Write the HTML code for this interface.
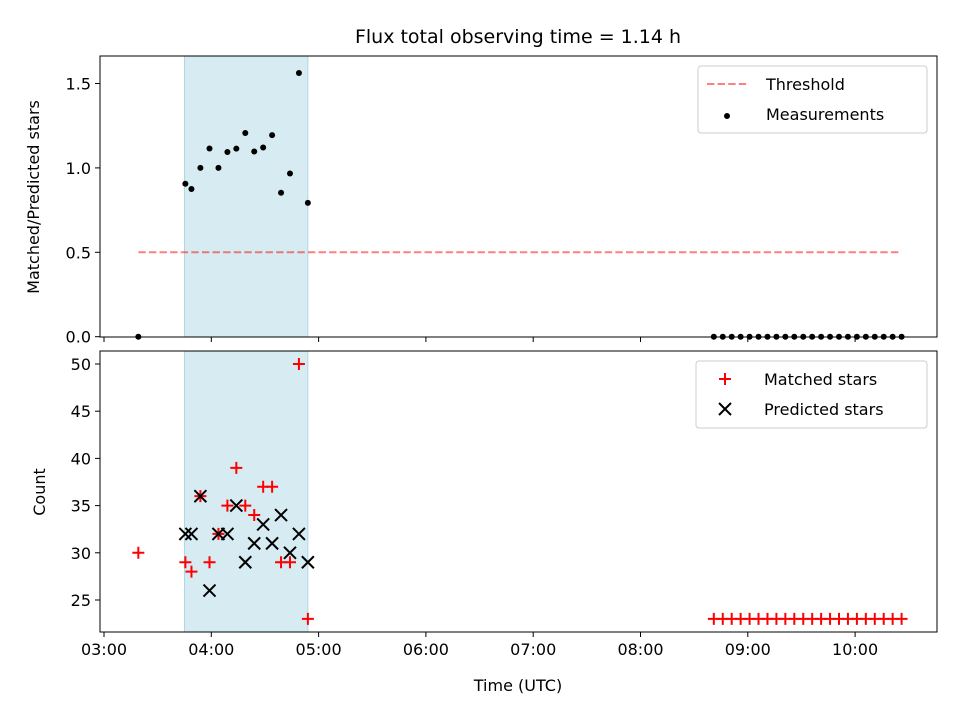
<!DOCTYPE html>
<html><head><meta charset="utf-8"><style>
body{margin:0;background:#fff;font-family:"Liberation Sans","DejaVu Sans",sans-serif;}
svg text{font-family:"DejaVu Sans","Liberation Sans",sans-serif;}
</style></head><body>
<svg id="chart" width="960" height="720" xmlns="http://www.w3.org/2000/svg"></svg>
<script>
// minutes since 03:00
const measTimes = [19.2,45.5,48.9,53.9,59,64,69,74,79,84,89,94,99,104,109,114];
const lateStart = 341;
const ratios = [0,0.906,0.875,1.0,1.115,1.0,1.094,1.114,1.207,1.097,1.121,1.194,0.853,0.967,1.5625,0.793];
const matched = [30,29,28,36,29,32,35,39,35,34,37,37,29,29,50,23];
const predicted = [null,32,32,36,26,32,32,35,29,31,33,31,34,30,32,29];
const lateCount = 22;
const lateMatched = 23;
const lateRatio = 0;
const threshold = 0.5;
const spanStart = 45, spanEnd = 114;
const xTickLabels = ["03:00","04:00","05:00","06:00","07:00","08:00","09:00","10:00"];
const topYTicks = [0.0,0.5,1.0,1.5];
const botYTicks = [25,30,35,40,45,50];

const svg = document.getElementById('chart');
const NS = 'http://www.w3.org/2000/svg';
function el(tag, attrs, parent){const e=document.createElementNS(NS,tag);for(const k in attrs)e.setAttribute(k,attrs[k]);(parent||svg).appendChild(e);return e;}
const L=100,R=937, T1=56,B1=337, T2=351,B2=632;
const x = m => 104 + m/60*107.3;
const y1 = v => 336.7 - v*168.8;
const y2 = v => 364 + (50-v)*9.44;

const times = measTimes;
const lateTimes = [];
for(let i=0;i<lateCount;i++) lateTimes.push(lateStart + i*5);

function panel(T,B,name){
  const g=el('g',{});
  
  
  const s=el('rect',{x:x(spanStart),y:T,width:x(spanEnd)-x(spanStart),height:B-T,fill:'#add8e6','fill-opacity':0.5,stroke:'#add8e6'},g);
  
  
  return g;
}
const gTop=panel(T1,B1,'top-panel');
const gBot=panel(T2,B2,'bottom-panel');

const allT=[...times,...lateTimes];
const tl=el('line',{x1:x(Math.min(...allT)),x2:x(Math.max(...allT)),y1:y1(threshold),y2:y1(threshold),stroke:'#ff0000','stroke-opacity':0.5,'stroke-width':2,'stroke-dasharray':'7.4,3.2'},gTop);


times.forEach((t,i)=>{const c=el('circle',{cx:x(t),cy:y1(ratios[i]),r:3,fill:'#000'},gTop);

});
lateTimes.forEach(t=>{const c=el('circle',{cx:x(t),cy:y1(lateRatio),r:3,fill:'#000'},gTop);

});

function plus(cx,cy,g){const p=el('path',{d:`M${cx-6},${cy}H${cx+6}M${cx},${cy-6}V${cy+6}`,stroke:'#ff0000','stroke-width':2},g);

}
function cross(cx,cy,g){const p=el('path',{d:`M${cx-6},${cy-6}L${cx+6},${cy+6}M${cx-6},${cy+6}L${cx+6},${cy-6}`,stroke:'#000','stroke-width':2},g);

}
times.forEach((t,i)=>plus(x(t),y2(matched[i]),gBot));
lateTimes.forEach(t=>plus(x(t),y2(lateMatched),gBot));
times.forEach((t,i)=>{if(predicted[i]!=null)cross(x(t),y2(predicted[i]),gBot);});

function frame(T,B){el('rect',{x:L,y:T,width:R-L,height:B-T,fill:'none',stroke:'#000','stroke-width':1});}
frame(T1,B1);frame(T2,B2);
xTickLabels.forEach((lab,i)=>{
  const xx=x(i*60);
  el('line',{x1:xx,x2:xx,y1:B1,y2:B1+5,stroke:'#000'});
  el('line',{x1:xx,x2:xx,y1:B2,y2:B2+5,stroke:'#000'});
  const t=el('text',{x:xx,y:B2+23,'font-size':16,'text-anchor':'middle'});t.textContent=lab;
  
  
});
topYTicks.forEach(v=>{const yy=y1(v);el('line',{x1:L-5,x2:L,y1:yy,y2:yy,stroke:'#000'});
 const t=el('text',{x:L-9,y:yy+6,'font-size':16,'text-anchor':'end'});t.textContent=v.toFixed(1);
 
 });
botYTicks.forEach(v=>{const yy=y2(v);el('line',{x1:L-5,x2:L,y1:yy,y2:yy,stroke:'#000'});
 const t=el('text',{x:L-9,y:yy+6,'font-size':16,'text-anchor':'end'});t.textContent=v;
 
 });

let t=el('text',{x:518,y:43,'font-size':19,'text-anchor':'middle'});t.textContent='Flux total observing time = 1.14 h';

t=el('text',{x:518,y:691,'font-size':16,'text-anchor':'middle'});t.textContent='Time (UTC)';

t=el('text',{x:0,y:0,'font-size':16,'text-anchor':'middle',transform:'translate(39,197) rotate(-90)'});t.textContent='Matched/Predicted stars';

t=el('text',{x:0,y:0,'font-size':16,'text-anchor':'middle',transform:'translate(45,492) rotate(-90)'});t.textContent='Count';


function legend(x0,y0,w,entries,name){
  const g=el('g',{});
  el('rect',{x:x0,y:y0,width:w,height:67,rx:3,fill:'#fff','fill-opacity':0.8,stroke:'#ccc'},g);
  entries.forEach((e,i)=>{
    const cy=y0+18+i*30;
    e.draw(x0+28,cy,g);
    const tx=el('text',{x:x0+68,y:cy+6,'font-size':16},g);tx.textContent=e.label;
    
  });
}
legend(698,66,229,[
 {label:'Threshold',draw:(cx,cy,g)=>el('line',{x1:cx-19,x2:cx+21,y1:cy,y2:cy,stroke:'#ff0000','stroke-opacity':0.5,'stroke-width':2,'stroke-dasharray':'7.4,3.2'},g)},
 {label:'Measurements',draw:(cx,cy,g)=>el('circle',{cx:cx+1,cy:cy+2,r:3,fill:'#000'},g)}
],'top-legend');
legend(696,361,231,[
 {label:'Matched stars',draw:(cx,cy,g)=>plus(cx+1,cy,g)},
 {label:'Predicted stars',draw:(cx,cy,g)=>cross(cx+1,cy,g)}
],'bottom-legend');
</script>
</body></html>
